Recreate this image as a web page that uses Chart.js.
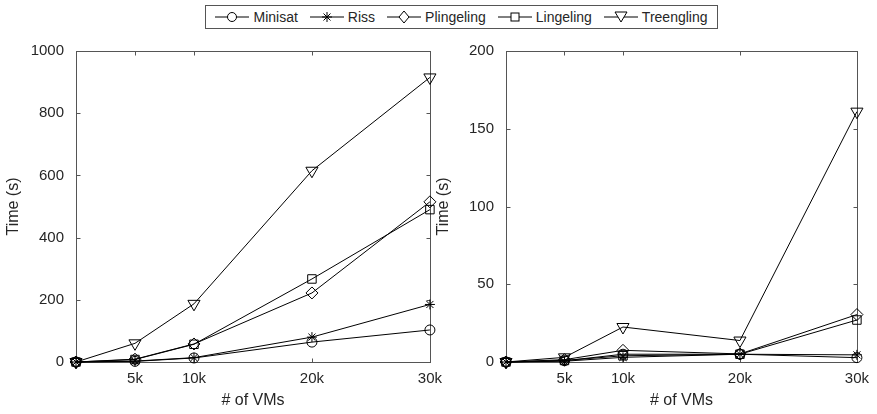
<!DOCTYPE html>
<html>
<head>
<meta charset="utf-8">
<script src="https://cdn.jsdelivr.net/npm/chart.js@4"></script>
<style>
    body { margin: 0; background: #fff; }
    #wrap { position: relative; width: 877px; height: 414px; font-family: "Liberation Sans", Arial, sans-serif; color: #262626; }
    canvas { position: absolute; top: 30px; }
    #legend {
        position: absolute; left: 205px; top: 5px; width: 511px; height: 22px;
        border: 1px solid #555; display: flex; align-items: center; justify-content: center;
        font-size: 14px; background: #fff;
    }
    .item { display: flex; align-items: center; margin: 0 6px; }
    .item svg { margin-right: 4px; }
</style>
</head>
<body>
<div id="wrap">
    <div id="legend"></div>
    <canvas id="leftChart" width="450" height="384" style="left:0px"></canvas>
    <canvas id="rightChart" width="447" height="384" style="left:430px"></canvas>
</div>
<script>
const vmCounts = [0, 5000, 10000, 20000, 30000];
const xTickLabels = ['', '5k', '10k', '20k', '30k'];
const solvers = ['Minisat', 'Riss', 'Plingeling', 'Lingeling', 'Treengling'];

// left panel
const leftMinisat    = [0, 2, 13, 64, 103];
const leftRiss       = [0, 3, 14, 80, 185];
const leftPlingeling = [0, 9, 58, 222, 515];
const leftLingeling  = [0, 8, 57, 267, 490];
const leftTreengling = [0, 60, 187, 615, 915];

// right panel
const rightMinisat    = [0, 0.8, 5, 5, 2.8];
const rightRiss       = [0, 0.5, 3, 5, 4.6];
const rightPlingeling = [0, 1.5, 7.5, 5.2, 30.5];
const rightLingeling  = [0, 1, 4, 5, 27];
const rightTreengling = [0, 3, 22.5, 13.8, 161];

const markers = [
    { style: 'circle', r: 5 },
    { style: 'star', r: 5 },
    { style: 'rectRot', r: 6 },
    { style: 'rect', r: 6 },
    { style: 'triangle', r: 7 }
];

const textColor = '#262626';
const frameColor = '#555';
const fontFamily = '"Liberation Sans", Arial, sans-serif';

const frameTicks = {
    id: 'frameTicks',
    beforeDatasetsDraw(chart) {
        const { ctx, chartArea: a, scales: { x, y } } = chart;
        ctx.save();
        ctx.strokeStyle = frameColor;
        ctx.lineWidth = 1;
        const L = Math.round(a.left) + 0.5, R = Math.round(a.right) + 0.5;
        const T = Math.round(a.top) + 0.5, B = Math.round(a.bottom) + 0.5;
        ctx.strokeRect(L, T, R - L, B - T);
        ctx.beginPath();
        x.ticks.forEach(t => {
            const px = Math.round(x.getPixelForValue(t.value)) + 0.5;
            ctx.moveTo(px, B); ctx.lineTo(px, B - 4);
            ctx.moveTo(px, T); ctx.lineTo(px, T + 4);
        });
        y.ticks.forEach(t => {
            const py = Math.round(y.getPixelForValue(t.value)) + 0.5;
            ctx.moveTo(L, py); ctx.lineTo(L + 4, py);
            ctx.moveTo(R, py); ctx.lineTo(R - 4, py);
        });
        ctx.stroke();
        ctx.restore();
    }
};

function makeChart(id, series, yMax, yStep, rightPad) {
    const datasets = series.map((vals, i) => ({
        label: solvers[i],
        data: vals.map((v, j) => ({ x: vmCounts[j], y: v })),
        borderColor: '#000',
        backgroundColor: 'rgba(0,0,0,0)',
        borderWidth: 1,
        pointStyle: markers[i].style,
        pointRadius: markers[i].r,
        pointRotation: markers[i].style === 'triangle' ? 180 : 0,
        pointBorderColor: '#000',
        pointBackgroundColor: 'rgba(0,0,0,0)',
        pointBorderWidth: 1,
        clip: false,
        tension: 0
    }));

    return new Chart(document.getElementById(id), {
        type: 'line',
        data: { datasets },
        options: {
            responsive: false,
            animation: false,
            devicePixelRatio: 1,
            layout: { padding: { top: 17, right: rightPad, left: 0, bottom: 0 } },
            plugins: { legend: { display: false }, tooltip: { enabled: false } },
            scales: {
                x: {
                    type: 'linear',
                    min: 0,
                    max: 30000,
                    afterBuildTicks: s => { s.ticks = vmCounts.map(v => ({ value: v })); },
                    afterFit: s => { s.height = 52; },
                    grid: { display: false, drawTicks: false },
                    border: { display: false },
                    ticks: {
                        autoSkip: false,
                        maxRotation: 0,
                        padding: 8,
                        color: textColor,
                        font: { family: fontFamily, size: 15 },
                        callback: v => xTickLabels[vmCounts.indexOf(v)]
                    },
                    title: {
                        display: true,
                        text: '# of VMs',
                        color: textColor,
                        font: { family: fontFamily, size: 16 },
                        padding: { top: 12 }
                    }
                },
                y: {
                    min: 0,
                    max: yMax,
                    afterFit: s => { s.width = 76; },
                    grid: { display: false, drawTicks: false },
                    border: { display: false },
                    ticks: {
                        stepSize: yStep,
                        padding: 12,
                        color: textColor,
                        font: { family: fontFamily, size: 15 },
                        callback: v => String(v)
                    },
                    title: {
                        display: true,
                        text: 'Time (s)',
                        color: textColor,
                        font: { family: fontFamily, size: 16 },
                        padding: { bottom: 4 }
                    }
                }
            }
        },
        plugins: [frameTicks]
    });
}

makeChart('leftChart', [leftMinisat, leftRiss, leftPlingeling, leftLingeling, leftTreengling], 1000, 200, 15);
makeChart('rightChart', [rightMinisat, rightRiss, rightPlingeling, rightLingeling, rightTreengling], 200, 50, 10);

// legend with line + marker samples
const symbolSvg = [
    '<circle cx="17" cy="8" r="4.5"/>',
    '<path d="M17 3V13M12 8H22M13.5 4.5L20.5 11.5M20.5 4.5L13.5 11.5"/>',
    '<path d="M17 2L22 8L17 14L12 8Z"/>',
    '<rect x="13" y="4" width="8" height="8"/>',
    '<path d="M11 3H23L17 13Z"/>'
];
const legend = document.getElementById('legend');
solvers.forEach((name, i) => {
    const item = document.createElement('div');
    item.className = 'item';
    item.innerHTML = '<svg width="34" height="16" fill="#fff" stroke="#000" stroke-width="1">' +
        '<line x1="0" y1="8" x2="34" y2="8"/>' + symbolSvg[i] + '</svg><span>' + name + '</span>';
    legend.appendChild(item);
});
</script>
</body>
</html>
